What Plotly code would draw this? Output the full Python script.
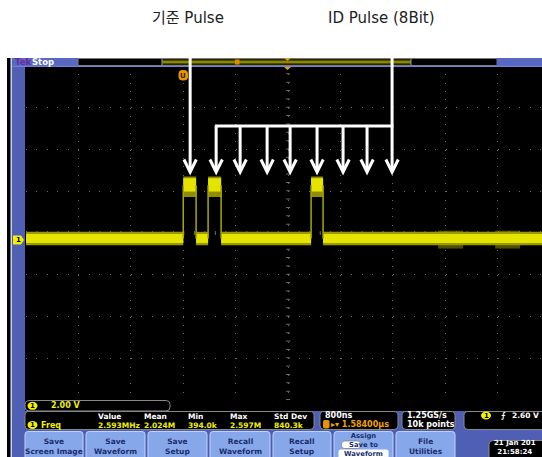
import plotly.graph_objects as go

TDIV = 0.8          # µs / div  (800ns)
VDIV = 2.0          # V / div   (2.00 V)
# baseline (low level) segments, µs
base_start = [-4.000, -1.404, -1.022, 0.534]
base_end   = [-1.600, -1.221, 0.351, 3.875]
base_level = 0.07
# pulse (high level) segments, µs
pulse_start = [-1.600, -1.221, 0.351]
pulse_end   = [-1.404, -1.022, 0.534]
pulse_level = 2.62
# noisy regions on the right of the record, µs
noise_start = [2.29, 3.16]
noise_end   = [2.67, 3.54]
# arrow positions (reference pulse and 8 ID bit slots), µs
ref_arrow_t = [-1.495]
id_arrow_t = [-1.098, -0.732, -0.320, 0.031, 0.442, 0.839, 1.205, 1.587]

titles = ["기준 Pulse", "ID Pulse (8Bit)"]
meas_headers = ["Value", "Mean", "Min", "Max", "Std Dev"]
meas_values = ["2.593MHz", "2.024M", "394.0k", "2.597M", "840.3k"]
buttons = [("Save", "Screen Image"), ("Save", "Waveform"), ("Save", "Setup"),
           ("Recall", "Waveform"), ("Recall", "Setup"), ("Assign", "Save to", "Waveform"),
           ("File", "Utilities")]

# ---------------- geometry helpers (page pixels -> paper) ----------------
OFF = 0                      # body margin removed by post_script below
W, H = 542 - OFF, 457 - OFF  # figure size
L, R, T, B = 26, 542, 66, 400   # plot area in page pixels


def px(x):
    return (x - L) / (R - L)


def py(y):
    return (B - y) / (B - T)


def P(x, y):
    return f"{px(x):.5f},{py(y):.5f}"


def rrect(x0, y0, x1, y1, r):
    return (f"M{P(x0 + r, y0)} L{P(x1 - r, y0)} Q{P(x1, y0)} {P(x1, y0 + r)} "
            f"L{P(x1, y1 - r)} Q{P(x1, y1)} {P(x1 - r, y1)} L{P(x0 + r, y1)} "
            f"Q{P(x0, y1)} {P(x0, y1 - r)} L{P(x0, y0 + r)} Q{P(x0, y0)} {P(x0 + r, y0)} Z")


shapes = []
annos = []


def rect(x0, y0, x1, y1, fill, line=None, lw=0, layer="above"):
    shapes.append(dict(type="rect", xref="paper", yref="paper",
                       x0=px(x0), x1=px(x1), y0=py(y1), y1=py(y0),
                       fillcolor=fill, line=dict(color=line or fill, width=lw), layer=layer))


def rpath(x0, y0, x1, y1, r, fill, line, lw=1, layer="above"):
    shapes.append(dict(type="path", xref="paper", yref="paper", path=rrect(x0, y0, x1, y1, r),
                       fillcolor=fill, line=dict(color=line, width=lw), layer=layer))


def text(x, y, s, size=8, color="white", anchor="left", family="DejaVu Sans", bold=True):
    annos.append(dict(xref="paper", yref="paper", x=px(x), y=py(y), text=(f"<b>{s}</b>" if bold else s),
                      showarrow=False, xanchor=anchor, yanchor="middle", borderpad=0,
                      font=dict(size=size, color=color, family=family)))


def badge(x, y, w=10, h=8):
    shapes.append(dict(type="circle", xref="paper", yref="paper",
                       x0=px(x - w / 2), x1=px(x + w / 2), y0=py(y + h / 2), y1=py(y - h / 2),
                       fillcolor="#f2f200", line=dict(color="#f2f200", width=0), layer="above"))
    text(x, y + 0.3, "1", size=7, color="black", anchor="center")


BLUE = "#4f5fb4"
# ---------------- scope chrome ----------------
rect(7, 58, 542, 457, "black", layer="below")
rect(10.5, 58, 12.5, 457, "#c8d0f4")
rect(12.5, 58, 25, 457, BLUE)
rect(12.5, 411, 542, 457, BLUE)
# top bar
rect(12.5, 58, 78, 66, "#5868c2")
text(13.5, 62, "Tek", size=8.5, color="#6c2aa0")
text(31, 62, "Stop", size=8.5, color="white")
rect(78, 58.5, 497, 65.5, "black", line="#7a7a7a", lw=1)
rect(162, 59.5, 411, 64.5, "#4a4a00")
shapes.append(dict(type="line", xref="paper", yref="paper", x0=px(162), x1=px(411), y0=py(62), y1=py(62),
                   line=dict(color="#c8c800", width=1)))
for xx in (162, 411):
    shapes.append(dict(type="line", xref="paper", yref="paper", x0=px(xx), x1=px(xx), y0=py(58.5), y1=py(65.5),
                       line=dict(color="#9a9a9a", width=1)))
rect(497, 58, 542, 66, "#5868c2")
shapes.append(dict(type="line", xref="paper", yref="paper", x0=px(12.5), x1=px(542), y0=py(66.3), y1=py(66.3),
                   line=dict(color="#7080d8", width=1.3)))
rect(235, 59.5, 239.5, 64.5, "#e08a00")
shapes.append(dict(type="path", xref="paper", yref="paper",
                   path=f"M{P(284, 58)} L{P(291, 58)} L{P(287.5, 61)} Z", fillcolor="#f0a000",
                   line=dict(width=0)))
shapes.append(dict(type="path", xref="paper", yref="paper",
                   path=f"M{P(284, 67)} L{P(291, 67)} L{P(287.5, 70)} Z", fillcolor="#f0a000",
                   line=dict(width=0)))
rpath(179, 70.5, 187.5, 80, 3, "#e89400", "#e89400")
text(183.3, 75.5, "U", size=7, color="#3a2000", anchor="center")
# channel 1 ground marker
shapes.append(dict(type="path", xref="paper", yref="paper",
                   path=f"M{P(13, 235.5)} L{P(21, 235.5)} L{P(24, 240)} L{P(21, 244.5)} L{P(13, 244.5)} Z",
                   fillcolor="#f2f200", line=dict(width=0)))
text(18, 240.3, "1", size=7, color="black", anchor="center")

# vertical readout
rpath(25, 400.5, 170, 411, 4, "black", "#8a8a8a", 1)
badge(32.5, 405.8)
text(50, 405.8, "2.00 V", size=8, color="#f0f000")
# measurement box
rpath(25, 411.5, 314, 429.5, 4, "black", "#8a8a8a", 1)
badge(32.5, 425)
text(40, 425, "Freq", size=8, color="#f0f000")
hx = [97, 143, 187, 229, 273]
for x, hd, vl in zip(hx, meas_headers, meas_values):
    text(x, 416.5, hd, size=7.5, color="white")
    text(x, 425.5, vl, size=7.5, color="#f0f000")
# timebase box
rpath(320, 411.5, 398, 429.5, 4, "black", "#8a8a8a", 1)
text(324, 415.5, "800ns", size=8, color="white")
rpath(323.5, 420.5, 329, 428, 1, "#e89400", "#e89400")
text(330, 424.5, "▸▾ 1.58400µs", size=8, color="#f0a000")
# sample-rate box
rpath(402, 411.5, 455, 429.5, 4, "black", "#8a8a8a", 1)
text(406, 415.5, "1.25GS/s", size=8, color="white")
text(406, 424.5, "10k points", size=8, color="white")
# trigger box
rpath(464, 411.5, 560, 429.5, 4, "black", "#8a8a8a", 1)
badge(486, 415.5)
text(500, 415.5, "⨍", size=8, color="white")
text(511, 415.5, "2.60 V", size=7.5, color="white")
# buttons
bx = [(25, 83), (86, 145), (148, 207), (210, 270), (273, 331), (334, 393), (396, 455)]
for (x0, x1), lines in zip(bx, buttons):
    rpath(x0, 431.5, x1, 462, 3, "#86a8ea", "#c0d4fa", 1)
    cx = (x0 + x1) / 2
    if len(lines) == 3:
        rpath(cx - 25, 449.5, cx + 25, 460, 2, "white", "white", 0)
        rpath(cx - 22, 441, cx - 3, 448.5, 3, "white", "#808080", 0.8)
        text(cx, 444.8, "<br>".join(lines), size=6.8, color="#1c2c6c", anchor="center")
    else:
        text(cx, 446, "<br>".join(lines), size=7.5, color="#1c2c6c", anchor="center")
# date box
rpath(489, 440.5, 560, 462, 4, "black", "#8a8a8a", 1)
text(493, 447.6, "21 Jan 201<br>21:58:24", size=7, color="white")

# titles
text(188, 18, titles[0], size=15, color="#222222", anchor="center",
     family="DejaVu Sans, Noto Sans CJK KR", bold=False)
text(381, 18, titles[1], size=15, color="#222222", anchor="center",
     family="DejaVu Sans, Noto Sans CJK KR", bold=False)

# ---------------- waveform ----------------
fig = go.Figure()


def band(t0, t1, lo, hi, color, opacity=1.0):
    fig.add_trace(go.Scatter(x=[t0, t1, t1, t0, t0], y=[lo, lo, hi, hi, lo], mode="lines",
                             fill="toself", fillcolor=color, line=dict(width=0), opacity=opacity,
                             hoverinfo="skip", showlegend=False))


for t0, t1 in zip(noise_start, noise_end):
    band(t0, t1, base_level - 0.48, base_level + 0.38, "#8c8c00", 0.55)
for t0, t1 in zip(base_start, base_end):
    band(t0, t1, base_level - 0.32, base_level + 0.32, "#9a9a00")
    band(t0, t1, base_level - 0.21, base_level + 0.22, "#e4e400")
for t0, t1 in zip(pulse_start, pulse_end):
    band(t0, t1, pulse_level - 0.56, pulse_level + 0.42, "#8e8e00")
    band(t0, t1, pulse_level - 0.30, pulse_level + 0.34, "#e4e400")
for t in pulse_start + pulse_end:
    fig.add_trace(go.Scatter(x=[t, t], y=[base_level, pulse_level], mode="lines",
                             line=dict(color="#a8a800", width=1.5), hoverinfo="skip", showlegend=False))

# ---------------- arrows (white annotations) ----------------
HW = 6.2 / 52.44 * TDIV


def arrow(t, ytop):
    shapes.append(dict(type="line", xref="x", yref="paper", x0=t, x1=t, y0=py(ytop), y1=py(171),
                       line=dict(color="white", width=3)))
    shapes.append(dict(type="path", xref="x", yref="paper",
                       path=f"M{t - HW},{py(159.5)} L{t},{py(172)} L{t + HW},{py(159.5)}",
                       line=dict(color="white", width=3)))


for t in ref_arrow_t:
    arrow(t, 57)
for t in id_arrow_t:
    arrow(t, 126)
shapes.append(dict(type="line", xref="x", yref="paper", x0=id_arrow_t[0] - 0.02, x1=id_arrow_t[-1] + 0.02,
                   y0=py(126), y1=py(126), line=dict(color="white", width=3)))
shapes.append(dict(type="line", xref="x", yref="paper", x0=id_arrow_t[-1], x1=id_arrow_t[-1],
                   y0=py(57), y1=py(126), line=dict(color="white", width=3)))

# graticule center-line tick marks
ymin, ymax = (240 - 400) / 41.75 * VDIV, (240 - 66) / 41.75 * VDIV
ycen = (ymin + ymax) / 2
shapes.append(dict(type="line", xref="x", yref="y", x0=-4.0, x1=3.875, y0=ycen, y1=ycen,
                   line=dict(color="#6a6a6a", width=4, dash="1px,9.49px"), layer="below"))
shapes.append(dict(type="line", xref="x", yref="y", x0=0, x1=0, y0=ymin, y1=ymax,
                   line=dict(color="#6a6a6a", width=4, dash="1px,7.35px"), layer="below"))

fig.update_layout(
    width=W, height=H, autosize=False,
    margin=dict(l=L - OFF, r=542 - R, t=T - OFF, b=457 - B, pad=0),
    paper_bgcolor="white", plot_bgcolor="black",
    shapes=shapes, annotations=annos, showlegend=False,
    xaxis=dict(range=[-4.0, 3.875], tick0=-4.0, dtick=TDIV, showticklabels=False, ticks="",
               showgrid=True, gridcolor="#6a6a6a", gridwidth=1, griddash="1px,7.35px",
               zeroline=False, showline=False, fixedrange=True),
    yaxis=dict(range=[ymin, ymax], tick0=ymin, dtick=VDIV, showticklabels=False, ticks="",
               showgrid=True, gridcolor="#6a6a6a", gridwidth=1, griddash="1px,9.49px",
               zeroline=False, showline=False, fixedrange=True),
)
fig.write_html("out.html", config={"displayModeBar": False},
               post_script="document.body.style.margin='0';"
                           "document.documentElement.style.overflow='hidden';")
